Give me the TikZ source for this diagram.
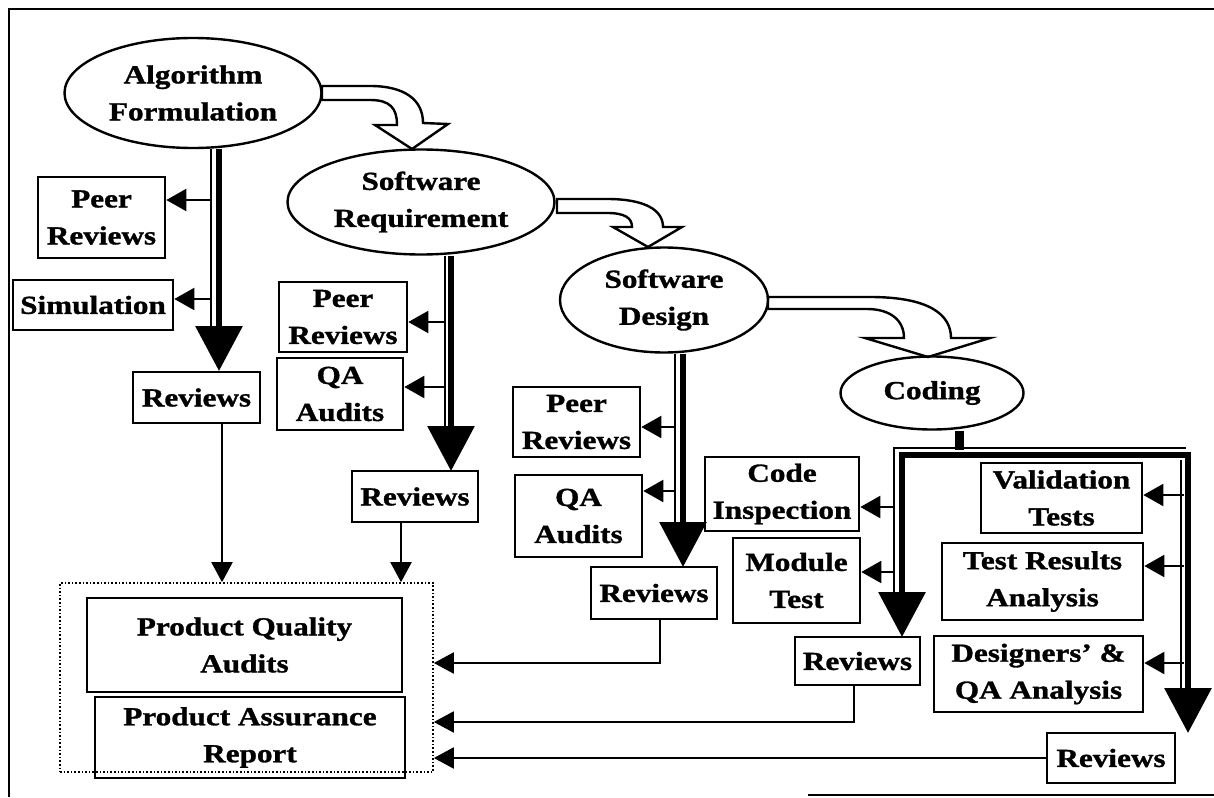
\documentclass[tikz,border=0pt]{standalone}
\usepackage{fontspec}
\newfontfamily\lbf{Liberation Serif}[FakeStretch=1.2, BoldFeatures={FakeBold=1.2}]
\usetikzlibrary{arrows.meta,shapes.geometric}
\newcommand\bx[6]{%
  \pgfmathsetmacro\bxw{(#4-#2)*0.5}%
  \pgfmathsetmacro\bxh{(#5-#3)*0.5}%
  \node[box, minimum width=\bxw pt, minimum height=\bxh pt] (#1) at ({(#2+#4)/2},{(#3+#5)/2}) {#6};}
\begin{document}
\begin{tikzpicture}[x=0.5pt,y=-0.5pt,
 txt/.style={font=\lbf\bfseries\fontsize{13}{18.5}\selectfont, align=center},
 box/.style={txt, draw, line width=1.3pt, inner sep=0pt},
 oval/.style={txt, ellipse, draw, line width=1.2pt, inner sep=0pt},
 group/.style={draw, densely dotted, line width=0.8pt, inner sep=0pt},
 branch/.style={line width=1pt, -{Triangle[length=10pt,width=11pt]}},
 conn/.style={line width=1pt, -{Triangle[length=10pt,width=10.5pt]}},
 bigarrow/.style={line width=3.2pt, -{Triangle[length=22.5pt,width=23pt]}},
 thinline/.style={line width=0.8pt},
 hollow/.style={draw, fill=white, line width=1.2pt, line join=miter},
 frameline/.style={line width=1pt}
]
\useasboundingbox (0,0) rectangle (1214,797);

% frame
\draw[frameline] (8,9) -- (1214,9);
\draw[frameline] (9,9) -- (9,797);
\draw[frameline] (808,795) -- (1214,795);

% hollow curved arrows
\draw[hollow] (322,86) -- (370,86) .. controls (405,86) and (423,100) .. (423,123) -- (448,124) -- (412,149) -- (375,125) -- (397,125) .. controls (397,108) and (390,100) .. (370,100) -- (322,100) -- cycle;
\draw[hollow] (557,199) -- (607,199) .. controls (645,199) and (663,210) .. (663,227) -- (682,227) -- (648,247) -- (613,227) -- (632,227) .. controls (632,218) and (625,213) .. (607,213) -- (557,213) -- cycle;
\draw[hollow] (768,297) -- (870,297) .. controls (930,297) and (951,315) .. (951,338) -- (990,338) -- (928,357) -- (865,338) -- (904,338) .. controls (904,320) and (890,309) .. (867,309) -- (768,309) -- cycle;

% ellipses
\node[oval, minimum width=128.5pt, minimum height=55pt] (alg) at (193,93) {Algorithm\\Formulation};
\node[oval, minimum width=133.5pt, minimum height=52.5pt] (sr) at (421,202) {Software\\Requirement};
\node[oval, minimum width=104pt, minimum height=52.5pt] (sd) at (664,300) {Software\\Design};
\node[oval, minimum width=91.5pt, minimum height=36.5pt] (cod) at (932,393) {Coding};

% boxes
\bx{pr1}{38}{177}{165}{258}{Peer\\Reviews}
\bx{sim}{13}{280}{173}{330}{Simulation}
\bx{rv1}{133}{372}{260}{423}{Reviews}
\bx{pr2}{279}{282}{407}{352}{Peer\\Reviews}
\bx{qa2}{277}{358}{403}{430}{QA\\Audits}
\bx{rv2}{352}{471}{478}{522}{Reviews}
\bx{pr3}{513}{387}{640}{457}{Peer\\Reviews}
\bx{qa3}{515}{475}{642}{557}{QA\\Audits}
\bx{rv3}{591}{567}{717}{619}{Reviews}
\bx{ci}{705}{457}{859}{531}{Code\\Inspection}
\bx{mt}{733}{538}{860}{623}{Module\\Test}
\bx{rv4}{795}{637}{920}{685}{Reviews}
\bx{vt}{981}{463}{1142}{533}{Validation\\Tests}
\bx{tra}{942}{543}{1143}{620}{Test Results\\Analysis}
\bx{dqa}{934}{636}{1143}{712}{Designers’ \&\\QA Analysis}
\bx{rv5}{1047}{733}{1175}{783}{Reviews}
\node[group, minimum width=186.5pt, minimum height=94.5pt] (grp) at (246.5,677.5) {};
\bx{pqa}{87}{598}{402}{692}{Product Quality\\Audits}
\bx{par}{95}{697}{405}{778}{Product Assurance\\Report}

% Algorithm shaft
\coordinate (t1) at (211,326);
\coordinate (s1) at (219,371);
\draw[thinline] (alg.south -| t1) -- (t1);
\draw[bigarrow] (alg.south -| s1) -- (s1);
\coordinate (b11) at (211,200);
\coordinate (b12) at (211,299);
\draw[branch] (b11) -- (b11 -| pr1.east);
\draw[branch] (b12) -- (b12 -| sim.east);

% Software Requirement shaft
\coordinate (t2) at (445,426);
\coordinate (s2) at (451,471);
\draw[thinline] (sr.south -| t2) -- (t2);
\draw[bigarrow] (sr.south -| s2) -- (s2);
\coordinate (b21) at (445,322);
\coordinate (b22) at (445,387);
\draw[branch] (b21) -- (b21 -| pr2.east);
\draw[branch] (b22) -- (b22 -| qa2.east);

% Software Design shaft
\coordinate (t3) at (675,525);
\coordinate (s3) at (683,567);
\draw[thinline] (sd.south -| t3) -- (t3);
\draw[bigarrow] (sd.south -| s3) -- (s3);
\coordinate (b31) at (675,427);
\coordinate (b32) at (675,491);
\draw[branch] (b31) -- (b31 -| pr3.east);
\draw[branch] (b32) -- (b32 -| qa3.east);

% Coding frame
\coordinate (cs) at (959,450);
\draw[line width=4.5pt] (cod.south -| cs) -- (cs);
\coordinate (cl) at (902,637);
\coordinate (cr) at (1188,733);
\draw[line width=3.2pt, line join=miter, {Triangle[length=22.5pt,width=23pt]}-{Triangle[length=22.5pt,width=23pt]}] (cl) -- (902,455) -- (1188,455) -- (cr);
\draw[thinline] (894,592) -- (894,448) -- (1186,448);
\draw[thinline] (1181,460) -- (1181,688);
\coordinate (c1) at (894,507);
\coordinate (c2) at (894,572);
\coordinate (c3) at (1184,495);
\coordinate (c4) at (1184,566);
\coordinate (c5) at (1184,663);
\draw[branch] (c1) -- (c1 -| ci.east);
\draw[branch] (c2) -- (c2 -| mt.east);
\draw[branch] (c3) -- (c3 -| vt.east);
\draw[branch] (c4) -- (c4 -| tra.east);
\draw[branch] (c5) -- (c5 -| dqa.east);

% connectors to the group
\coordinate (d1) at (222,583);
\coordinate (d2) at (401,583);
\coordinate (e3) at (660,663);
\coordinate (e4) at (854,722);
\draw[conn] (rv1.south -| d1) -- (d1 |- grp.north);
\draw[conn] (rv2.south -| d2) -- (d2 |- grp.north);
\draw[conn] (rv3.south -| e3) -- (e3) -- (grp.east |- e3);
\draw[conn] (rv4.south -| e4) -- (e4) -- (grp.east |- e4);
\draw[conn] (rv5.west) -- (rv5.west -| grp.east);
\end{tikzpicture}
\end{document}
